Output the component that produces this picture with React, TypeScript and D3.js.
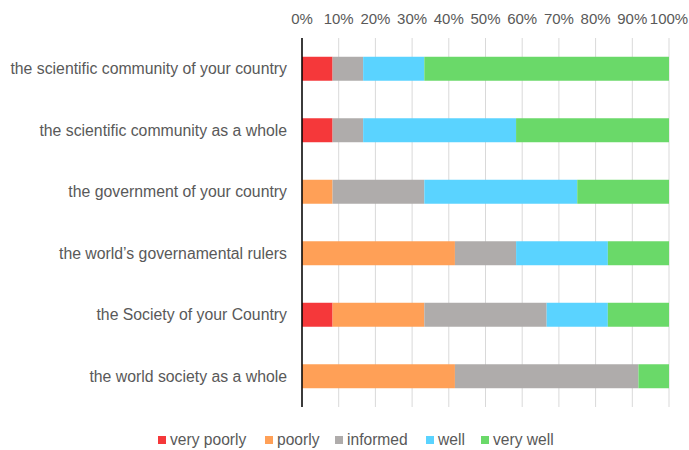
import React from "react";
import * as d3 from "d3";

const categories = [
  "the scientific community of your country",
  "the scientific community as a whole",
  "the government of your country",
  "the world’s governamental rulers",
  "the Society of your Country",
  "the world society as a whole",
];
const seriesNames = ["very poorly", "poorly", "informed", "well", "very well"];
const veryPoorly = [8.33, 8.33, 0, 0, 8.33, 0];
const poorly = [0, 0, 8.33, 41.67, 25, 41.67];
const informed = [8.33, 8.33, 25, 16.67, 33.33, 50];
const well = [16.67, 41.67, 41.67, 25, 16.67, 0];
const veryWell = [66.67, 41.67, 25, 16.67, 16.67, 8.33];
const colors = ["#F5383A", "#FFA057", "#AFACAB", "#5AD3FF", "#6AD969"];
const tickValues = [0, 10, 20, 30, 40, 50, 60, 70, 80, 90, 100];

const W = 689;
const H = 450;
const left = 302;
const right = 669;
const top = 38;
const bottom = 407;
const font = "'Liberation Sans', Arial, sans-serif";
const textColor = "#595959";

export default function App() {
  const x = d3.scaleLinear().domain([0, 100]).range([left, right]);
  const y = d3.scaleBand().domain(categories).range([top, bottom]).paddingInner(0.61).paddingOuter(0.305);
  const rows = categories.map((c, i) => ({
    cat: c,
    "very poorly": veryPoorly[i],
    poorly: poorly[i],
    informed: informed[i],
    well: well[i],
    "very well": veryWell[i],
  }));
  const stack = d3.stack<any>().keys(seriesNames)(rows);

  const legendX = [158, 265, 335, 426, 481];

  return (
    <svg width={W} height={H} style={{ position: "absolute", left: 0, top: 0 }}>
      <rect width={W} height={H} fill="#fff" />
      {tickValues.map((t) => (
        <line key={"g" + t} x1={x(t)} x2={x(t)} y1={top} y2={bottom} stroke="#D9D9D9" strokeWidth={1} />
      ))}
      {tickValues.map((t) => (
        <text key={"t" + t} x={x(t)} y={24} textAnchor="middle" fontFamily={font} fontSize={15} fill={textColor}>
          {t}%
        </text>
      ))}
      {stack.map((s, si) =>
        s.map((d, i) => (
          <rect
            key={si + "-" + i}
            x={x(d[0])}
            y={y(categories[i])!}
            width={Math.max(0, x(d[1]) - x(d[0]))}
            height={y.bandwidth()}
            fill={colors[si]}
          />
        ))
      )}
      <line x1={left} x2={left} y1={top} y2={bottom} stroke="#000" strokeWidth={1.5} />
      {categories.map((c) => (
        <text
          key={c}
          x={287}
          y={y(c)! + y.bandwidth() / 2 + 5.5}
          textAnchor="end"
          fontFamily={font}
          fontSize={15.8}
          fill={textColor}
        >
          {c}
        </text>
      ))}
      {seriesNames.map((n, i) => (
        <g key={n} transform={`translate(${legendX[i]},0)`}>
          <rect x={0} y={436} width={8} height={8} fill={colors[i]} />
          <text x={12} y={444.5} fontFamily={font} fontSize={15.6} fill={textColor}>
            {n}
          </text>
        </g>
      ))}
    </svg>
  );
}
